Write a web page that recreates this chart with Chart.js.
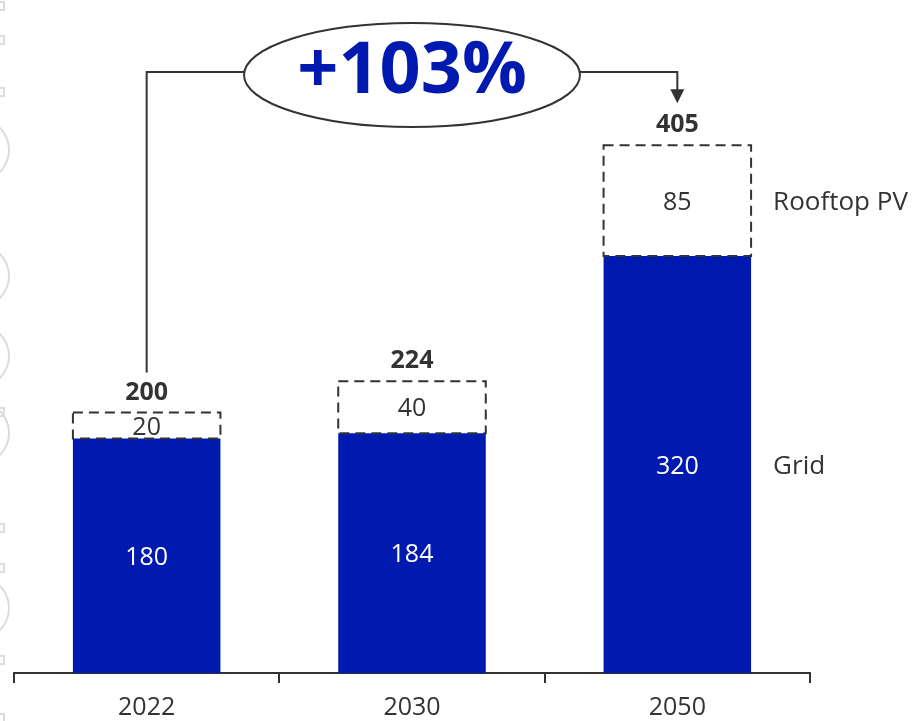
<!DOCTYPE html>
<html>
<head>
<meta charset="utf-8">
<script src="https://cdn.jsdelivr.net/npm/chart.js@4/dist/chart.umd.min.js"></script>
<style>
  html, body { margin: 0; padding: 0; background: #fff; }
  #wrap { width: 913px; height: 721px; }
</style>
</head>
<body>
<div id="wrap"><canvas id="chart" width="913" height="721"></canvas></div>
<script>
  const years = ['2022', '2030', '2050'];
  const gridValues = [180, 184, 320];
  const rooftopValues = [20, 40, 85];
  const seriesNames = ['Grid', 'Rooftop PV'];
  const growthLabel = '+103%';

  const BLUE = '#001aaf';
  const DARK = '#333333';
  const FONT = '"Open Sans", "Noto Sans", sans-serif';

  const totals = years.map((_, i) => gridValues[i] + rooftopValues[i]);

  // faint leftovers along the left edge of the slide
  const edgePlugin = {
    id: 'edge',
    beforeDraw(chart) {
      const ctx = chart.ctx;
      ctx.save();
      ctx.strokeStyle = '#dcdcdc';
      ctx.lineWidth = 2;
      [150, 276, 356, 433, 608].forEach((cy) => {
        ctx.beginPath();
        ctx.arc(-22, cy, 31, -Math.PI / 2.6, Math.PI / 2.6);
        ctx.stroke();
      });
      [6, 40, 92, 412, 528, 568, 660, 718].forEach((sy) => {
        ctx.strokeRect(-4, sy - 4, 8, 8);
      });
      ctx.restore();
    }
  };

  const annotatePlugin = {
    id: 'annotate',
    afterDatasetsDraw(chart) {
      const ctx = chart.ctx;
      const gridMeta = chart.getDatasetMeta(0);
      const pvMeta = chart.getDatasetMeta(1);
      const yScale = chart.scales.y;
      ctx.save();

      // dashed outline for rooftop PV segments
      pvMeta.data.forEach((el) => {
        const left = el.x - el.width / 2;
        ctx.setLineDash([10, 6]);
        ctx.strokeStyle = DARK;
        ctx.lineWidth = 2;
        ctx.strokeRect(left, el.y, el.width, el.base - el.y);
      });
      ctx.setLineDash([]);

      // values inside segments
      ctx.textAlign = 'center';
      ctx.textBaseline = 'middle';
      ctx.font = '25px ' + FONT;
      gridMeta.data.forEach((el, i) => {
        ctx.fillStyle = '#ffffff';
        ctx.fillText(String(gridValues[i]), el.x, (el.y + el.base) / 2 + 2);
      });
      pvMeta.data.forEach((el, i) => {
        ctx.fillStyle = DARK;
        ctx.fillText(String(rooftopValues[i]), el.x, (el.y + el.base) / 2 + 2);
      });

      // totals
      ctx.font = 'bold 25px ' + FONT;
      ctx.fillStyle = DARK;
      pvMeta.data.forEach((el, i) => {
        ctx.fillText(String(totals[i]), el.x, yScale.getPixelForValue(totals[i]) - 20);
      });

      // series names to the right of the last bar
      const last = years.length - 1;
      const gEl = gridMeta.data[last];
      const pEl = pvMeta.data[last];
      ctx.textAlign = 'left';
      ctx.font = '26px ' + FONT;
      ctx.fillText(seriesNames[1], pEl.x + pEl.width / 2 + 22, (pEl.y + pEl.base) / 2 + 2);
      ctx.fillText(seriesNames[0], gEl.x + gEl.width / 2 + 22, (gEl.y + gEl.base) / 2 + 2);

      // growth connector
      const x0 = pvMeta.data[0].x;
      const x1 = pvMeta.data[last].x;
      const lineY = 72;
      const cx = (x0 + x1) / 2;
      const cy = 75;
      const rx = 168;
      const ry = 52;
      const startY = yScale.getPixelForValue(totals[0]) - 40;
      const tipY = yScale.getPixelForValue(totals[last]) - 42;
      ctx.strokeStyle = DARK;
      ctx.lineWidth = 2;
      ctx.beginPath();
      ctx.moveTo(x0, startY);
      ctx.lineTo(x0, lineY);
      ctx.lineTo(cx - rx, lineY);
      ctx.moveTo(cx + rx, lineY);
      ctx.lineTo(x1, lineY);
      ctx.lineTo(x1, tipY - 12);
      ctx.stroke();
      ctx.fillStyle = DARK;
      ctx.beginPath();
      ctx.moveTo(x1 - 7, tipY - 14);
      ctx.lineTo(x1 + 7, tipY - 14);
      ctx.lineTo(x1, tipY);
      ctx.closePath();
      ctx.fill();

      ctx.fillStyle = '#ffffff';
      ctx.beginPath();
      ctx.ellipse(cx, cy, rx, ry, 0, 0, Math.PI * 2);
      ctx.fill();
      ctx.stroke();

      ctx.textAlign = 'center';
      ctx.fillStyle = BLUE;
      ctx.font = 'bold 72px ' + FONT;
      ctx.fillText(growthLabel, cx, cy - 3);

      ctx.restore();
    }
  };

  new Chart(document.getElementById('chart'), {
    type: 'bar',
    data: {
      labels: years,
      datasets: [
        {
          label: seriesNames[0],
          data: gridValues,
          backgroundColor: BLUE,
          borderWidth: 0,
          barPercentage: 1,
          categoryPercentage: 0.556
        },
        {
          label: seriesNames[1],
          data: rooftopValues,
          backgroundColor: '#ffffff',
          borderWidth: 0,
          barPercentage: 1,
          categoryPercentage: 0.556
        }
      ]
    },
    options: {
      responsive: false,
      animation: false,
      layout: {
        padding: { left: 14, right: 103, top: 21.5, bottom: 0 }
      },
      plugins: {
        legend: { display: false },
        tooltip: { enabled: false }
      },
      scales: {
        x: {
          stacked: true,
          afterFit(scale) {
            scale.height = 48;
          },
          grid: {
            offset: true,
            drawOnChartArea: false,
            drawTicks: true,
            tickLength: 10,
            color: DARK,
            lineWidth: 2
          },
          border: { display: true, color: DARK, width: 2 },
          ticks: {
            color: DARK,
            padding: 12,
            font: { family: FONT, size: 25, lineHeight: 1.0 }
          }
        },
        y: {
          stacked: true,
          display: false,
          min: 0,
          max: 500
        }
      }
    },
    plugins: [edgePlugin, annotatePlugin]
  });
</script>
</body>
</html>
